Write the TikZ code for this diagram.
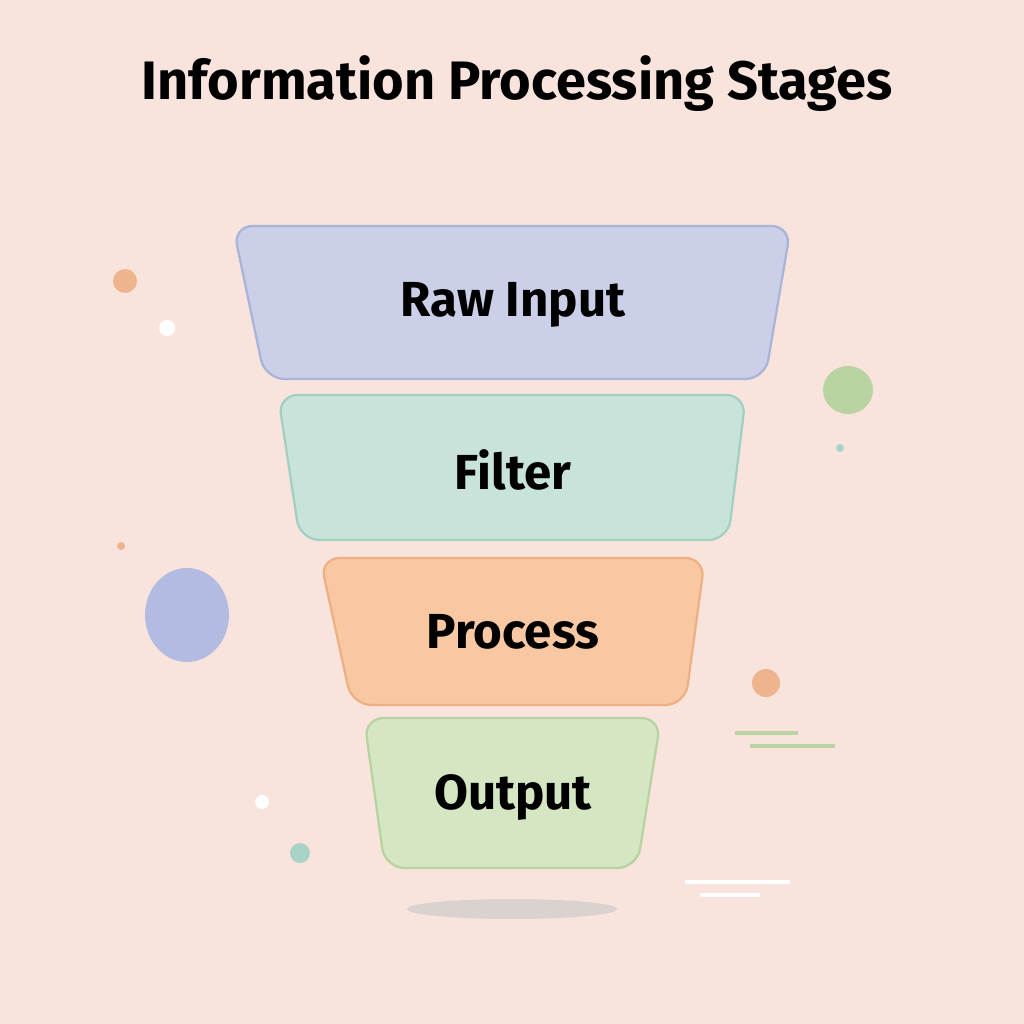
\documentclass[tikz,border=0pt]{standalone}
\usepackage{fontspec}
\setmainfont{Fira Sans}
\definecolor{bg}{HTML}{F8E4DC}
\definecolor{f1}{HTML}{CBCFE8}\definecolor{d1}{HTML}{A9B4D8}
\definecolor{f2}{HTML}{C8E4DA}\definecolor{d2}{HTML}{A3CFC3}
\definecolor{f3}{HTML}{F8C8A2}\definecolor{d3}{HTML}{EEB083}
\definecolor{f4}{HTML}{D5E6C3}\definecolor{d4}{HTML}{B8D2A1}
\definecolor{orb}{HTML}{EDB48E}\definecolor{grb}{HTML}{B9D3A3}
\definecolor{blb}{HTML}{B3BBE0}\definecolor{teb}{HTML}{A8D3C8}
\tikzset{stage/.style={line width=1.6pt, rounded corners=14pt},
lab/.style={font=\bfseries\fontsize{35}{40}\selectfont, text=black}}
\begin{document}
\begin{tikzpicture}[x=0.25mm,y=-0.25mm]
\fill[bg] (0,0) rectangle (1024,1024);
\useasboundingbox (0,0) rectangle (1024,1024);
\node[font=\bfseries\fontsize{38.5}{44}\selectfont] (title) at (517,84) {Information Processing Stages};
% decorations
\fill[orb] (125,281) circle (12);
\fill[white] (167,328) circle (8);
\fill[grb] (848,390) ellipse (25 and 24);
\fill[teb] (840,448) circle (4);
\fill[orb] (121,546) circle (4);
\fill[blb] (187,615) ellipse (42 and 47);
\fill[orb] (766,683) circle (14);
\draw[grb,line width=2.5pt] (735,733) -- (798,733) (750,746) -- (835,746);
\fill[white] (262,802) circle (7);
\fill[teb] (300,853) circle (10);
\fill[gray!45,opacity=0.6] (512,909) ellipse (105 and 10);
\draw[white,line width=2.5pt] (685,882) -- (790,882) (700,895) -- (760,895);
% stages
\draw[stage,fill=f1,draw=d1] (233,226) -- (791,226) -- (765,379) -- (265,379) -- cycle;
\draw[stage,fill=f2,draw=d2] (278,395) -- (746,395) -- (728,540) -- (300,540) -- cycle;
\draw[stage,fill=f3,draw=d3] (320,558) -- (705,558) -- (685,705) -- (352,705) -- cycle;
\draw[stage,fill=f4,draw=d4] (364,718) -- (661,718) -- (637,868) -- (385,868) -- cycle;
\node[lab] (s1) at (513,305) {Raw Input};
\node[lab] (s2) at (513,470) {Filter};
\node[lab] (s3) at (513,632) {Process};
\node[lab] (s4) at (513,797) {Output};
\end{tikzpicture}
\end{document}
